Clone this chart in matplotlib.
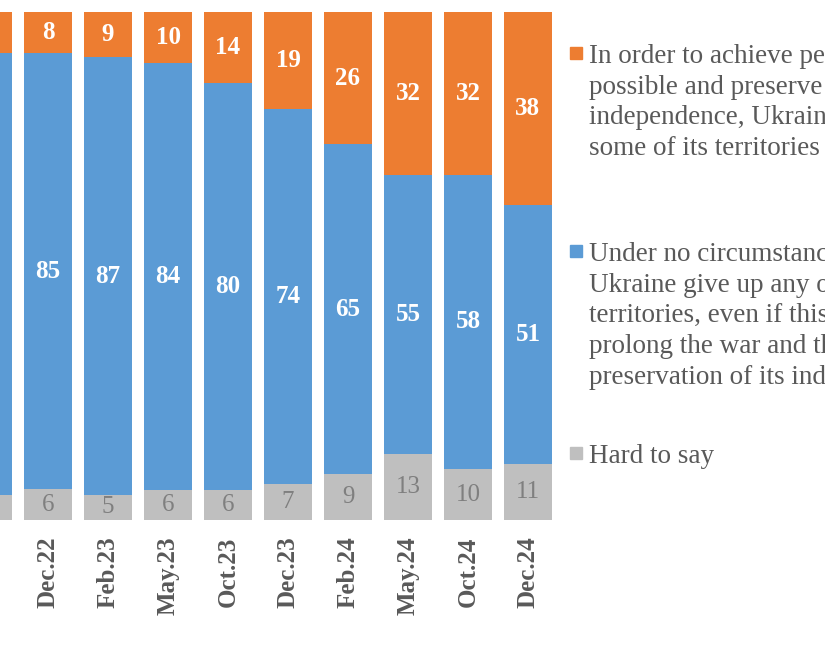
import matplotlib.pyplot as plt
import numpy as np
from matplotlib.patches import Rectangle

plt.rcParams['font.family'] = ['Liberation Serif', 'DejaVu Serif']

labels = ['Sep.22', 'Dec.22', 'Feb.23', 'May.23', 'Oct.23', 'Dec.23',
          'Feb.24', 'May.24', 'Oct.24', 'Dec.24']
give_up = np.array([8, 8, 9, 10, 14, 19, 26, 32, 32, 38])
never = np.array([87, 85, 87, 84, 80, 74, 65, 55, 58, 51])
hard = np.array([5, 6, 5, 6, 6, 7, 9, 13, 10, 11])

legend_texts = [
    'In order to achieve peace as soon as\npossible and preserve its\n'
    'independence, Ukraine can give up\nsome of its territories',
    'Under no circumstances should\nUkraine give up any of its\n'
    'territories, even if this will\nprolong the war and threaten the\n'
    'preservation of its independence',
    'Hard to say',
]

c_orange = '#ED7D31'
c_blue = '#5B9BD5'
c_gray = '#BFBFBF'

W, H = 825, 645
fig = plt.figure(figsize=(8.25, 6.45), dpi=100)
ax = fig.add_axes([0, (H - 520) / H, 560 / W, 508 / H])

# excel style 100% stacked
tot = give_up + never + hard
h_hard = hard / tot * 100
h_never = never / tot * 100
h_give = give_up / tot * 100

x = np.arange(len(labels))
ax.bar(x, h_hard, 0.8, color=c_gray)
ax.bar(x, h_never, 0.8, bottom=h_hard, color=c_blue)
ax.bar(x, h_give, 0.8, bottom=h_hard + h_never, color=c_orange)

for i in range(len(x)):
    ax.text(x[i], h_hard[i] / 2, str(hard[i]), ha='center', va='center',
            color='#7F7F7F', fontsize=18)
    ax.text(x[i], h_hard[i] + h_never[i] / 2, str(never[i]), ha='center',
            va='center', color='white', fontsize=18, fontweight='bold')
    ax.text(x[i], h_hard[i] + h_never[i] + h_give[i] / 2, str(give_up[i]),
            ha='center', va='center', color='white', fontsize=18,
            fontweight='bold')

ax.set_xticks(x)
ax.set_xticklabels(labels, rotation=90, fontsize=18, fontweight='bold',
                   color='#595959')
ax.set_xlim(0.2, 0.2 + 560 / 60)
ax.set_ylim(0, 100)
ax.tick_params(axis='x', length=0, pad=12)
ax.set_yticks([])
for s in ax.spines.values():
    s.set_visible(False)

# legend drawn by hand
leg_y = [47, 245, 447]
for txt, col, yy in zip(legend_texts, [c_orange, c_blue, c_gray], leg_y):
    fig.patches.append(Rectangle((570 / W, 1 - (yy + 12) / H), 12 / W, 12 / H,
                                 transform=fig.transFigure, color=col))
    fig.text(589 / W, 1 - (yy - 3) / H, txt, ha='left', va='top',
             fontsize=19.5, color='#595959', linespacing=1.3)

fig.savefig('out.png', dpi=100)
